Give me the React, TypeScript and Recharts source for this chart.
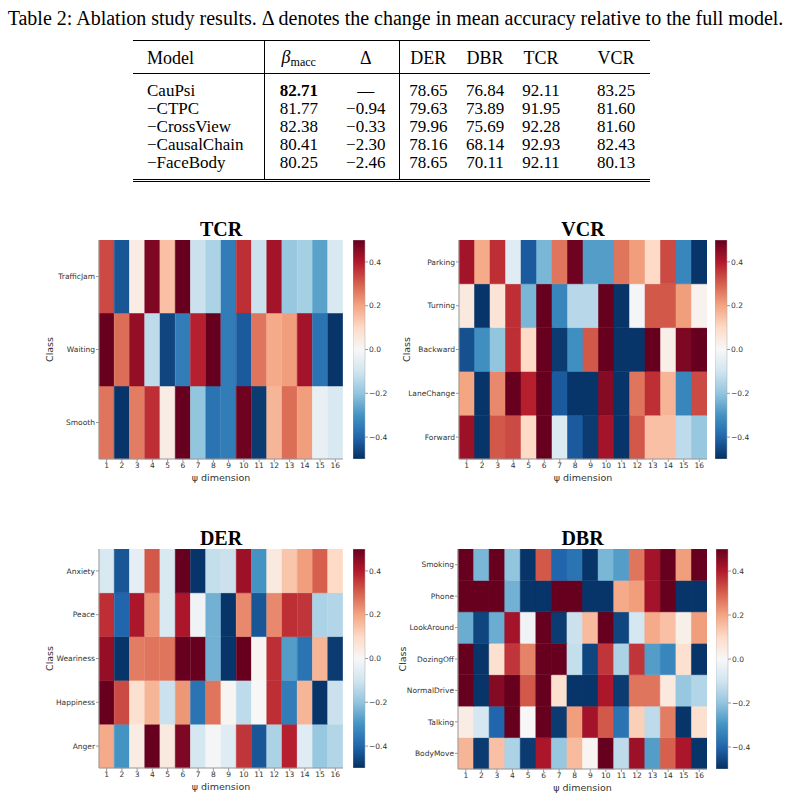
import { BarChart, Bar, XAxis, YAxis, Cell } from 'recharts';

const dims = ['1', '2', '3', '4', '5', '6', '7', '8', '9', '10', '11', '12', '13', '14', '15', '16'];

const tcrClasses = ['TrafficJam', 'Waiting', 'Smooth'];
const tcrValues = [
  [0.33, -0.43, 0.04, 0.47, 0.15, 0.5, -0.11, -0.16, -0.35, 0.37, -0.11, 0.42, -0.19, -0.17, -0.27, -0.08],
  [0.5, 0.28, 0.44, -0.13, -0.46, -0.35, 0.39, 0.5, -0.35, -0.42, 0.27, 0.19, 0.21, 0.42, -0.37, -0.49],
  [0.27, -0.49, 0.26, 0.37, 0.04, 0.5, -0.2, -0.37, -0.35, 0.49, -0.48, 0.17, 0.28, 0.21, -0.04, -0.08],
];

const vcrClasses = ['Parking', 'Turning', 'Backward', 'LaneChange', 'Forward'];
const vcrValues = [
  [0.42, 0.19, 0.37, -0.06, -0.42, -0.23, 0.27, 0.49, -0.28, -0.28, 0.27, 0.21, 0.1, 0.33, -0.33, -0.49],
  [0.05, -0.49, 0.07, 0.37, -0.23, 0.5, -0.33, -0.14, -0.14, 0.5, -0.49, -0.01, 0.31, 0.31, 0.21, 0.02],
  [-0.44, -0.31, -0.2, 0.37, 0.1, 0.5, -0.48, -0.31, 0.31, 0.5, -0.49, -0.49, 0.5, 0.03, 0.47, 0.5],
  [0.2, -0.49, 0.24, 0.5, 0.39, 0.5, -0.42, -0.49, -0.49, 0.46, -0.49, 0.27, 0.37, 0.17, -0.33, 0.33],
  [0.43, -0.49, 0.31, 0.33, 0.1, 0.5, -0.07, -0.42, -0.48, 0.42, -0.49, 0.31, 0.15, 0.15, -0.13, -0.19],
];

const derClasses = ['Anxiety', 'Peace', 'Weariness', 'Happiness', 'Anger'];
const derValues = [
  [-0.08, -0.43, -0.05, 0.31, -0.08, 0.5, -0.49, -0.12, -0.11, 0.43, -0.3, 0.05, 0.14, 0.21, 0.3, 0.1],
  [0.37, -0.4, 0.41, 0.23, -0.08, 0.41, -0.02, -0.24, -0.49, 0.24, -0.43, 0.24, 0.37, 0.36, -0.16, -0.15],
  [0.44, -0.49, 0.26, 0.27, 0.27, 0.5, 0.5, -0.24, -0.49, 0.5, 0.01, 0.37, -0.28, -0.37, 0.17, -0.48],
  [0.5, 0.33, 0.08, 0.17, -0.11, 0.22, -0.37, 0.27, 0.01, -0.13, 0, 0.37, -0.35, 0.17, -0.49, -0.11],
  [0.19, -0.3, 0.04, 0.5, 0.05, 0.47, -0.09, -0.01, -0.06, 0.36, -0.43, -0.16, 0.39, -0.06, -0.19, -0.15],
];

const dbrClasses = ['Smoking', 'Phone', 'LookAround', 'DozingOff', 'NormalDrive', 'Talking', 'BodyMove'];
const dbrValues = [
  [0.5, -0.23, 0.5, -0.2, -0.49, 0.31, -0.4, -0.37, -0.49, -0.23, -0.28, 0.27, 0.42, 0.5, 0.21, 0.5],
  [0.5, 0.5, 0.5, -0.24, -0.49, -0.49, 0.5, 0.5, -0.49, -0.49, 0.19, 0.21, 0.42, 0.5, -0.49, -0.49],
  [-0.25, -0.46, -0.25, 0.42, -0.02, 0.5, -0.48, -0.11, 0.16, 0.5, -0.46, -0.09, 0.19, 0.15, 0.03, 0.21],
  [0.5, -0.49, 0.08, 0.36, 0.25, 0.5, 0.5, -0.12, -0.46, 0.36, -0.16, 0.36, -0.28, -0.33, 0.08, -0.49],
  [0.5, -0.49, 0.46, 0.5, 0.31, 0.5, 0.08, -0.49, -0.49, 0.41, -0.48, 0.27, 0.27, 0.05, -0.19, -0.15],
  [0.04, -0.09, -0.4, 0.5, 0, 0.5, -0.48, 0.21, 0.42, 0.31, -0.37, 0.12, -0.13, 0.26, -0.49, 0.08],
  [0.17, -0.48, 0.15, -0.16, -0.48, 0.41, -0.19, 0.16, 0.01, 0.5, -0.13, 0.43, -0.28, 0.3, 0.41, -0.49],
];

const colorbarTicks = [-0.4, -0.2, 0, 0.2, 0.4];

// table
const models = ['CauPsi', '\u2212CTPC', '\u2212CrossView', '\u2212CausalChain', '\u2212FaceBody'];
const maccCol = ['82.71', '81.77', '82.38', '80.41', '80.25'];
const deltaCol = ['\u2014', '\u22120.94', '\u22120.33', '\u22122.30', '\u22122.46'];
const derCol = ['78.65', '79.63', '79.96', '78.16', '78.65'];
const dbrCol = ['76.84', '73.89', '75.69', '68.14', '70.11'];
const tcrCol = ['92.11', '91.95', '92.28', '92.93', '92.11'];
const vcrCol = ['83.25', '81.60', '81.60', '82.43', '80.13'];

// RdBu_r, vmin -0.5, vmax 0.5
const RDBU = ['#053061', '#2166ac', '#4393c3', '#92c5de', '#d1e5f0', '#f7f7f7', '#fddbc7', '#f4a582', '#d6604d', '#b2182b', '#67001f'];

function hex(c: string) {
  return [1, 3, 5].map((i) => parseInt(c.slice(i, i + 2), 16));
}

function rdbu(v: number) {
  const t = Math.max(0, Math.min(1, v + 0.5)) * 10;
  const i = Math.min(9, Math.floor(t));
  const f = t - i;
  const a = hex(RDBU[i]);
  const b = hex(RDBU[i + 1]);
  const m = a.map((x, k) => Math.round(x + (b[k] - x) * f));
  return `rgb(${m[0]},${m[1]},${m[2]})`;
}

const SANS = '"DejaVu Sans", sans-serif';
const SERIF = '"Liberation Serif", "Times New Roman", serif';

interface Box {
  plotLeft: number;
  plotTop: number;
  plotW: number;
  plotH: number;
  classX: number;
  cbLeft: number;
}

function Heatmap({ id, title, classes, values, box }: { id: string; title: string; classes: string[]; values: number[][]; box: Box }) {
  const n = classes.length;
  const data = dims.map((d) => {
    const row: Record<string, any> = { dim: d };
    classes.forEach((_, i) => {
      row['c' + i] = 1;
    });
    return row;
  });
  // first bar sits at the bottom, so stack classes in reverse
  const order = classes.map((_, i) => n - 1 - i);
  const yTicks = classes.map((_, i) => i + 0.5);
  const axisW = box.plotLeft - (box.classX - 6);
  const xAxisH = 26;

  return (
    <>
      <div
        style={{
          position: 'absolute',
          left: box.plotLeft,
          top: box.plotTop - 21,
          width: box.plotW,
          textAlign: 'center',
          fontFamily: SERIF,
          fontWeight: 'bold',
          fontSize: 20,
          lineHeight: '20px',
        }}
      >
        {title}
      </div>
      <div style={{ position: 'absolute', left: box.classX - 6, top: box.plotTop }}>
        <BarChart
          width={axisW + box.plotW}
          height={box.plotH + xAxisH}
          data={data}
          margin={{ top: 0, right: 0, bottom: 0, left: 0 }}
          barCategoryGap={0}
          barGap={0}
        >
          <XAxis
            dataKey="dim"
            height={xAxisH}
            tickSize={3}
            tickMargin={1}
            stroke="#999"
            tick={{ fontSize: 7.5, fill: '#333', fontFamily: SANS }}
            interval={0}
            label={{ value: '\u03c8 dimension', position: 'insideBottom', offset: 4, style: { fontSize: 9.5, fill: '#333', fontFamily: SANS } }}
          />
          <YAxis
            type="number"
            domain={[0, n]}
            ticks={yTicks}
            width={axisW}
            tickSize={3}
            tickMargin={1}
            stroke="#999"
            interval={0}
            tickFormatter={(v: number) => classes[n - 1 - Math.floor(v)]}
            tick={{ fontSize: 7.5, fill: '#333', fontFamily: SANS }}
            label={{ value: 'Class', angle: -90, position: 'insideLeft', offset: 6, style: { textAnchor: 'middle', fontSize: 9.5, fill: '#333', fontFamily: SANS } }}
          />
          {order.map((r) => (
            <Bar key={r} dataKey={'c' + r} stackId="s" isAnimationActive={false}>
              {values[r].map((v, j) => (
                <Cell key={j} fill={rdbu(v)} stroke={rdbu(v)} strokeWidth={0.5} />
              ))}
            </Bar>
          ))}
        </BarChart>
      </div>
      <div style={{ position: 'absolute', left: box.cbLeft, top: box.plotTop }}>
        <BarChart
          width={12 + 34}
          height={box.plotH}
          data={[{ name: 'cb', range: [-0.5, 0.5] }]}
          margin={{ top: 0, right: 0, bottom: 0, left: 0 }}
          barCategoryGap={0}
        >
          <defs>
            <linearGradient id={'grad-' + id} x1="0" y1="1" x2="0" y2="0">
              {RDBU.map((c, i) => (
                <stop key={i} offset={`${i * 10}%`} stopColor={c} />
              ))}
            </linearGradient>
          </defs>
          <XAxis dataKey="name" hide />
          <YAxis
            orientation="right"
            type="number"
            domain={[-0.5, 0.5]}
            ticks={colorbarTicks}
            width={34}
            tickSize={3}
            tickMargin={1}
            axisLine={false}
            stroke="#999"
            interval={0}
            tickFormatter={(v: number) => (v < 0 ? '\u2212' + Math.abs(v).toFixed(1) : v.toFixed(1))}
            tick={{ fontSize: 7.5, fill: '#333', fontFamily: SANS, textAnchor: 'start' }}
          />
          <Bar dataKey="range" fill={`url(#grad-${id})`} stroke="#aaa" strokeWidth={0.5} isAnimationActive={false} />
        </BarChart>
      </div>
    </>
  );
}

const cellBase: React.CSSProperties = { padding: 0, textAlign: 'center', whiteSpace: 'nowrap' };

function AblationTable() {
  const barL = '1px solid #000';
  const rows = models.map((m, i) => {
    const first = i === 0;
    const last = i === models.length - 1;
    const pad: React.CSSProperties = {
      paddingTop: first ? 8 : 0,
      paddingBottom: last ? 7 : 0,
      borderBottom: last ? '3px double #000' : undefined,
    };
    return (
      <tr key={m}>
        <td style={{ ...cellBase, ...pad, textAlign: 'left', paddingLeft: 14 }}>{m}</td>
        <td style={{ ...cellBase, ...pad, borderLeft: barL, fontWeight: first ? 'bold' : 'normal' }}>{maccCol[i]}</td>
        <td style={{ ...cellBase, ...pad }}>{deltaCol[i]}</td>
        <td style={{ ...cellBase, ...pad, borderLeft: barL }}>{derCol[i]}</td>
        <td style={{ ...cellBase, ...pad }}>{dbrCol[i]}</td>
        <td style={{ ...cellBase, ...pad }}>{tcrCol[i]}</td>
        <td style={{ ...cellBase, ...pad, paddingLeft: 13 }}>{vcrCol[i]}</td>
      </tr>
    );
  });
  const head: React.CSSProperties = {
    ...cellBase,
    fontWeight: 'normal',
    paddingTop: 7,
    paddingBottom: 5,
    borderTop: '1.5px solid #000',
    borderBottom: '1px solid #000',
  };
  return (
    <table
      style={{
        position: 'absolute',
        left: 133,
        top: 40,
        width: 517,
        borderCollapse: 'collapse',
        tableLayout: 'fixed',
        fontFamily: SERIF,
        fontSize: 17,
        lineHeight: '18px',
        color: '#000',
      }}
    >
      <colgroup>
        <col style={{ width: 131 }} />
        <col style={{ width: 69 }} />
        <col style={{ width: 66 }} />
        <col style={{ width: 58 }} />
        <col style={{ width: 56 }} />
        <col style={{ width: 56 }} />
        <col style={{ width: 81 }} />
      </colgroup>
      <thead>
        <tr>
          <th style={{ ...head, textAlign: 'left', paddingLeft: 14, fontSize: 18 }}>Model</th>
          <th style={{ ...head, borderLeft: barL, fontSize: 18 }}>
            <i>&beta;</i>
            <span style={{ fontSize: 12, position: 'relative', top: 3 }}>macc</span>
          </th>
          <th style={{ ...head, fontSize: 18 }}>&Delta;</th>
          <th style={{ ...head, borderLeft: barL, fontSize: 18 }}>DER</th>
          <th style={{ ...head, fontSize: 18 }}>DBR</th>
          <th style={{ ...head, fontSize: 18 }}>TCR</th>
          <th style={{ ...head, paddingLeft: 13, fontSize: 18 }}>VCR</th>
        </tr>
      </thead>
      <tbody>{rows}</tbody>
    </table>
  );
}

export default function App() {
  return (
    <div style={{ position: 'absolute', left: 0, top: 0, width: 791, height: 798, background: '#fff', overflow: 'hidden' }}>
      <div
        style={{
          position: 'absolute',
          left: 0,
          top: 7,
          width: 791,
          textAlign: 'center',
          fontFamily: SERIF,
          fontSize: 20,
          lineHeight: '22px',
          whiteSpace: 'nowrap',
        }}
      >
        Table 2: Ablation study results. &Delta; denotes the change in mean accuracy relative to the full model.
      </div>
      <AblationTable />
      <Heatmap id="tcr" title="TCR" classes={tcrClasses} values={tcrValues} box={{ plotLeft: 99, plotTop: 240, plotW: 244, plotH: 219, classX: 50, cbLeft: 353 }} />
      <Heatmap id="vcr" title="VCR" classes={vcrClasses} values={vcrValues} box={{ plotLeft: 459, plotTop: 240, plotW: 248, plotH: 219, classX: 407, cbLeft: 715 }} />
      <Heatmap id="der" title="DER" classes={derClasses} values={derValues} box={{ plotLeft: 99, plotTop: 549, plotW: 244, plotH: 219, classX: 50, cbLeft: 353 }} />
      <Heatmap id="dbr" title="DBR" classes={dbrClasses} values={dbrValues} box={{ plotLeft: 458, plotTop: 549, plotW: 249, plotH: 220, classX: 403, cbLeft: 716 }} />
    </div>
  );
}
